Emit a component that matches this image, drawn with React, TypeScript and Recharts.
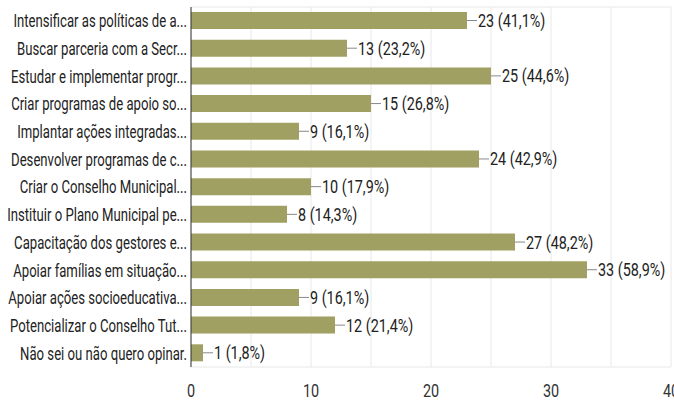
import React from 'react';
import { BarChart, Bar, XAxis, YAxis, CartesianGrid, LabelList } from 'recharts';

const categories = [
  'Intensificar as políticas de a...',
  'Buscar parceria com a Secr...',
  'Estudar e implementar progr...',
  'Criar programas de apoio so...',
  'Implantar ações integradas...',
  'Desenvolver programas de c...',
  'Criar o Conselho Municipal...',
  'Instituir o Plano Municipal pe...',
  'Capacitação dos gestores e...',
  'Apoiar famílias em situação...',
  'Apoiar ações socioeducativa...',
  'Potencializar o Conselho Tut...',
  'Não sei ou não quero opinar.',
];
const counts = [23, 13, 25, 15, 9, 24, 10, 8, 27, 33, 9, 12, 1];
const percents = ['41,1%', '23,2%', '44,6%', '26,8%', '16,1%', '42,9%', '17,9%', '14,3%', '48,2%', '58,9%', '16,1%', '21,4%', '1,8%'];
const xTicks = [0, 5, 10, 15, 20, 25, 30, 35, 40];
const xLabelTicks = [0, 10, 20, 30, 40];

const data = categories.map((c, i) => ({ name: c, value: counts[i], label: `${counts[i]} (${percents[i]})` }));

const SX_CAT = 0.73;
const SX_NUM = 0.8;
const FONT = 'Roboto, "Liberation Sans", sans-serif';

const YTick = (props: any) => {
  const { x, y, payload } = props;
  return (
    <g transform={`translate(${x + 4},${y})`}>
      <text transform={`scale(${SX_CAT},1)`} textAnchor="end" dy="0.36em" fontSize={18} fontFamily={FONT} fill="#222">
        {payload.value}
      </text>
    </g>
  );
};

const XTick = (props: any) => {
  const { x, y, payload } = props;
  if (!xLabelTicks.includes(payload.value)) return null;
  return (
    <g transform={`translate(${x},${y})`}>
      <text transform={`scale(${SX_NUM},1)`} textAnchor="middle" y={16} dy="0.36em" fontSize={18} fontFamily={FONT} fill="#333">
        {payload.value}
      </text>
    </g>
  );
};

const ValueLabel = (props: any) => {
  const { x, y, width, height, value } = props;
  const ex = x + width;
  const cy = y + height / 2;
  return (
    <g>
      <line x1={ex} y1={cy} x2={ex + 10} y2={cy} stroke="#888" strokeWidth={1} />
      <g transform={`translate(${ex + 11},${cy})`}>
        <text transform={`scale(${SX_NUM},1)`} dy="0.36em" fontSize={18} fontFamily={FONT} fill="#222">
          {value}
        </text>
      </g>
    </g>
  );
};

export default function App() {
  return (
    <div style={{ position: 'absolute', left: 0, top: 0, width: 674, height: 401, background: '#fff' }}>
      <BarChart
        width={674}
        height={401}
        data={data}
        layout="vertical"
        margin={{ top: 7, right: 3, bottom: 0, left: 0 }}
        barCategoryGap={10}
      >
        <CartesianGrid
          stroke="#e8e8e8"
          horizontalCoordinatesGenerator={({ offset }: any) => [offset.top, offset.top + offset.height]}
        />
        <XAxis
          type="number"
          domain={[0, 40]}
          ticks={xTicks}
          interval={0}
          axisLine={false}
          tickLine={false}
          tick={<XTick />}
          height={34}
        />
        <YAxis
          type="category"
          dataKey="name"
          width={191}
          axisLine={{ stroke: '#333', strokeWidth: 1 }}
          tickLine={false}
          tick={<YTick />}
          interval={0}
        />
        <Bar dataKey="value" fill="#a0a062" barSize={17} isAnimationActive={false}>
          <LabelList dataKey="label" content={<ValueLabel />} />
        </Bar>
      </BarChart>
    </div>
  );
}
